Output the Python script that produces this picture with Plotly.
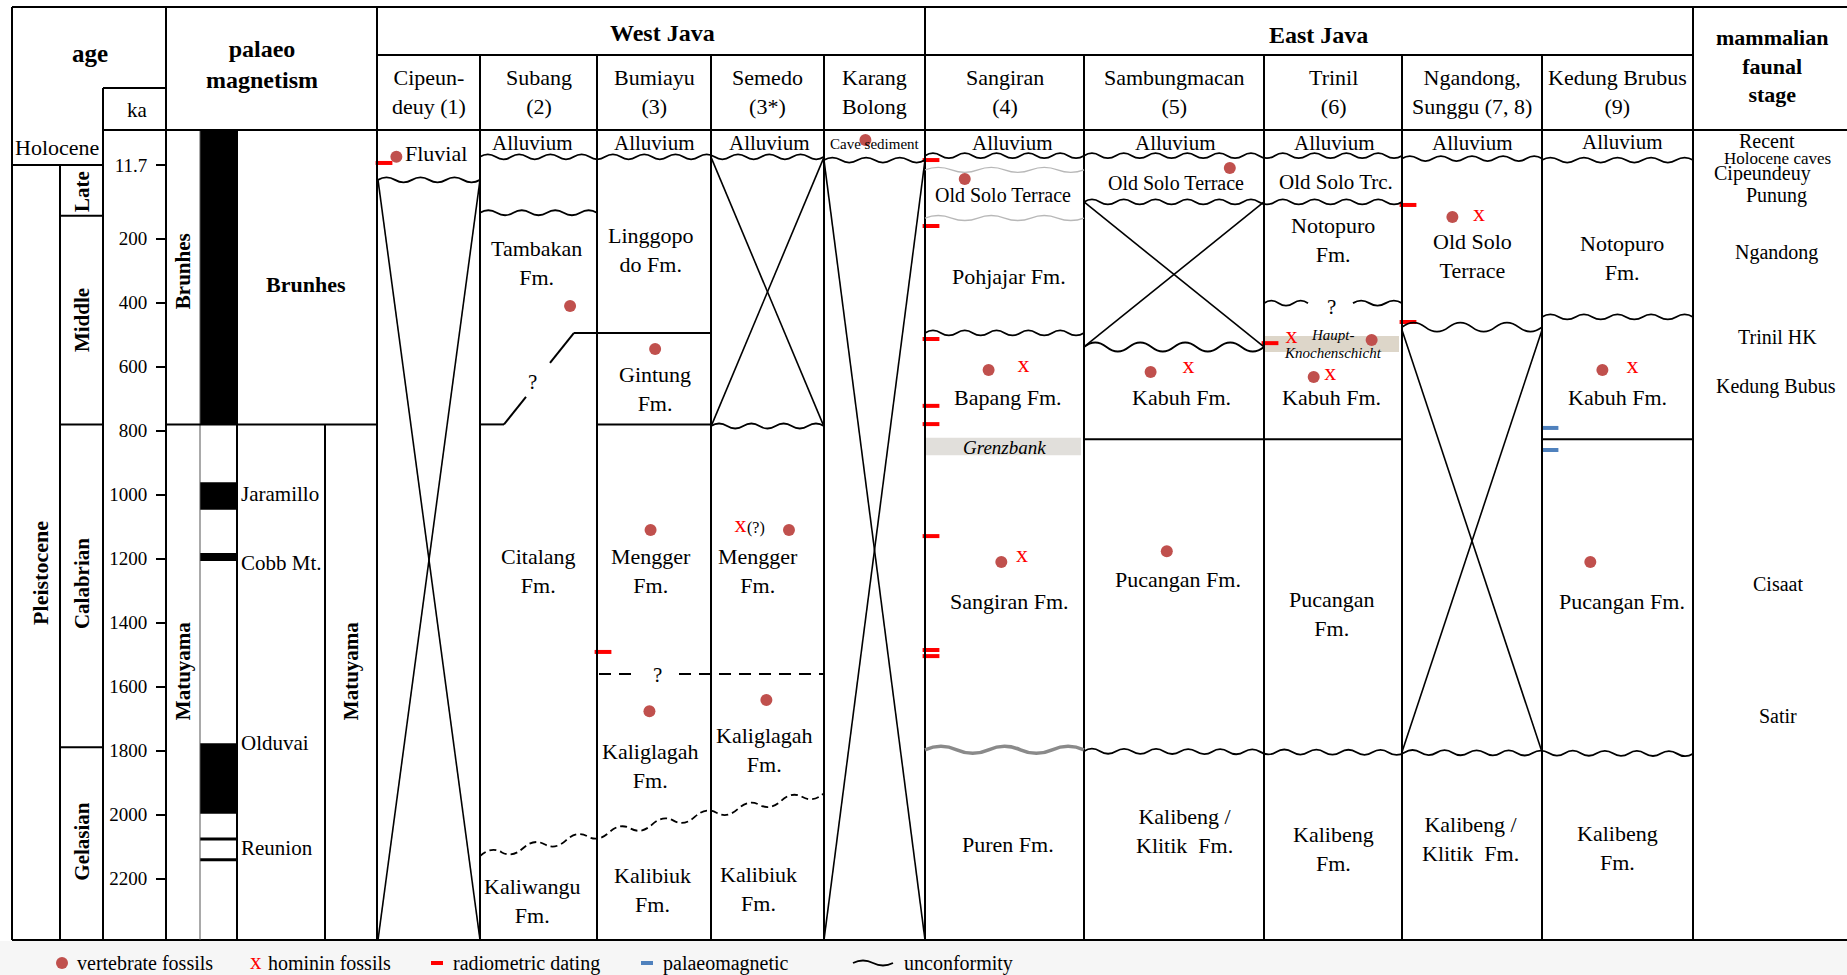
import plotly.graph_objects as go

# ---------------------------------------------------------------- age scale
AGE_TICKS = [11.7, 200, 400, 600, 800, 1000, 1200, 1400, 1600, 1800, 2000, 2200]
AGE_TICK_TEXT = ["11.7", "200", "400", "600", "800", "1000", "1200", "1400",
                 "1600", "1800", "2000", "2200"]
# the Holocene and Late Pleistocene are drawn stretched
SCALE_KNOTS_KA = [0.0, 11.7, 129.0]
SCALE_KNOTS_POS = [-136.0, -29.7, 129.0]
BASE_KA = 2392

EPOCHS = [("Holocene", 0, 11.7, 5.8), ("Pleistocene", 11.7, BASE_KA, 1245)]
STAGES = [("Late", 11.7, 129, 74), ("Middle", 129, 781, 455),
          ("Calabrian", 781, 1790, 1280), ("Gelasian", 1790, BASE_KA, 2085)]

# ---------------------------------------------------------- palaeomagnetism
CHRONS = [("Brunhes", 0, 781, 302), ("Matuyama", 781, BASE_KA, 1552)]
NORMAL_INTERVALS = [(0, 781), (962, 1048), (1183, 1208), (1777, 1998),
                    (2072, 2081), (2137, 2146)]
SUBCHRONS = [("Jaramillo", 998), ("Cobb Mt.", 1214), ("Olduvai", 1777), ("Reunion", 2105)]

# ----------------------------------------------------------------- sections
SECTIONS = ["cip", "sub", "bum", "sem", "kar", "san", "sam", "tri", "nga", "ked"]
SECTION_NAMES = ["Cipeun-<br>deuy (1)", "Subang<br>(2)", "Bumiayu<br>(3)", "Semedo<br>(3*)",
                 "Karang<br>Bolong", "Sangiran<br>(4)", "Sambungmacan<br>(5)", "Trinil<br>(6)",
                 "Ngandong,<br>Sunggu (7, 8)", "Kedung Brubus<br>(9)"]
REGIONS = ["West Java", "East Java"]

# formation labels: section, name, age at label (ka), place across column, size
FORMATIONS = [
    ("cip", "Fluvial", 7.9, 0.57, 22),
    ("sub", "Alluvium", 4.1, 0.45, 21),
    ("sub", "Tambakan<br>Fm.", 277, 0.48, 22),
    ("sub", "Citalang<br>Fm.", 1239, 0.50, 22),
    ("sub", "Kaliwangu<br>Fm.", 2270, 0.45, 22),
    ("bum", "Alluvium", 4.1, 0.50, 21),
    ("bum", "Linggopo<br>do Fm.", 236, 0.47, 22),
    ("bum", "Gintung<br>Fm.", 670, 0.51, 22),
    ("bum", "Mengger<br>Fm.", 1239, 0.47, 22),
    ("bum", "Kaliglagah<br>Fm.", 1848, 0.47, 22),
    ("bum", "Kalibiuk<br>Fm.", 2236, 0.49, 22),
    ("sem", "Alluvium", 4.1, 0.52, 21),
    ("sem", "Mengger<br>Fm.", 1239, 0.42, 22),
    ("sem", "Kaliglagah<br>Fm.", 1798, 0.47, 22),
    ("sem", "Kalibiuk<br>Fm.", 2233, 0.42, 22),
    ("kar", "Cave sediment", 4.5, 0.50, 15),
    ("san", "Alluvium", 4.1, 0.55, 21),
    ("san", "Old Solo Terrace", 81, 0.49, 20),
    ("san", "Pohjajar Fm.", 320, 0.53, 22),
    ("san", "Bapang Fm.", 698, 0.52, 22),
    ("san", "Sangiran Fm.", 1333, 0.53, 22),
    ("san", "Puren Fm.", 2095, 0.52, 22),
    ("sam", "Alluvium", 4.1, 0.51, 21),
    ("sam", "Old Solo Terrace", 53, 0.51, 20),
    ("sam", "Kabuh Fm.", 698, 0.54, 22),
    ("sam", "Pucangan Fm.", 1267, 0.52, 22),
    ("sam", "Kalibeng /<br>Klitik  Fm.", 2052, 0.56, 22),
    ("tri", "Alluvium", 4.1, 0.51, 21),
    ("tri", "Old Solo Trc.", 51, 0.52, 21),
    ("tri", "Notopuro<br>Fm.", 205, 0.50, 22),
    ("tri", "Kabuh Fm.", 698, 0.49, 22),
    ("tri", "Pucangan<br>Fm.", 1373, 0.49, 22),
    ("tri", "Kalibeng<br>Fm.", 2108, 0.50, 22),
    ("nga", "Alluvium", 4.1, 0.50, 21),
    ("nga", "Old Solo<br>Terrace", 255, 0.50, 22),
    ("nga", "Kalibeng /<br>Klitik  Fm.", 2077, 0.49, 22),
    ("ked", "Alluvium", 3.8, 0.53, 21),
    ("ked", "Notopuro<br>Fm.", 261, 0.53, 22),
    ("ked", "Kabuh Fm.", 698, 0.50, 22),
    ("ked", "Pucangan Fm.", 1333, 0.53, 22),
    ("ked", "Kalibeng<br>Fm.", 2105, 0.50, 22),
]
QUERIES = [("sub", 648, 0.45), ("bum", 1564, 0.53), ("tri", 414, 0.49)]

# marker beds: section, top, base (ka), label, label ages
MARKER_BEDS = [("san", 823, 877, ["Grenzbank"], [852], 19, "#e1dfdb"),
               ("tri", 505, 555, ["Haupt-", "Knochenschicht"], [500, 558], 15, "#ddd6c9")]

# fossil finds: section, age (ka), place across column
VERTEBRATE = [("cip", 8.9, 0.18), ("sub", 411, 0.77), ("bum", 545, 0.51), ("bum", 1111, 0.47),
              ("bum", 1677, 0.46), ("sem", 1111, 0.69), ("sem", 1642, 0.49), ("kar", 3.1, 0.41),
              ("san", 44, 0.25), ("san", 611, 0.40), ("san", 1211, 0.48),
              ("sam", 18.6, 0.81), ("sam", 617, 0.37), ("sam", 1177, 0.46),
              ("tri", 517, 0.78), ("tri", 633, 0.36), ("nga", 133, 0.36),
              ("ked", 611, 0.40), ("ked", 1211, 0.32)]
HOMININ = [("sem", 1105, 0.26), ("san", 605, 0.62), ("san", 1198, 0.61), ("sam", 608, 0.58),
           ("tri", 514, 0.20), ("tri", 630, 0.48), ("nga", 133, 0.55), ("ked", 608, 0.60)]
RADIOMETRIC = [("cip", 11.0), ("bum", 1492), ("san", 10), ("san", 161), ("san", 514),
               ("san", 723), ("san", 780), ("san", 1130), ("san", 1486), ("san", 1505),
               ("tri", 527), ("nga", 104), ("nga", 461)]
PALAEOMAGNETIC = [("ked", 792), ("ked", 861)]

# unconformities: first section, last section, age at left / right end, style
UNCONFORMITIES = [
    ("cip", "cip", 46, 46, "std"), ("sub", "sem", 8.9, 8.9, "std"), ("kar", "kar", 10, 10, "std"),
    ("sub", "sub", 122, 122, "std"), ("sem", "sem", 786, 786, "std"),
    ("sub", "sem", 2130, 1933, "dashed"),
    ("san", "tri", 8.5, 8.5, "std"), ("nga", "nga", 9.5, 9.5, "std"), ("ked", "ked", 10, 10, "std"),
    ("san", "san", 23, 23, "grey_thin"), ("san", "san", 136, 136, "grey_thin"),
    ("san", "san", 495, 495, "std"), ("sam", "tri", 97, 97, "std"),
    ("sam", "sam", 539, 539, "big"), ("nga", "nga", 477, 477, "big"),
    ("ked", "ked", 445, 445, "std"), ("san", "san", 1798, 1798, "grey_thick"),
    ("sam", "ked", 1802, 1810, "std"),
]
# sections with no record: section, top, base (ka)
HIATUSES = [("cip", 46, BASE_KA), ("sem", 9, 788), ("kar", 10, BASE_KA),
            ("sam", 97, 539), ("nga", 486, 1805)]

FAUNAL_STAGES = [("Recent", 3.4, 0.48, 20), ("Holocene caves", 9.4, 0.55, 17),
                 ("Cipeundeuy", 31, 0.45, 20), ("Punung", 81, 0.54, 20),
                 ("Ngandong", 245, 0.54, 20), ("Trinil HK", 508, 0.55, 20),
                 ("Kedung Bubus", 661, 0.54, 20), ("Cisaat", 1280, 0.55, 20),
                 ("Satir", 1692, 0.55, 20)]

LEGEND_ITEMS = ["vertebrate fossils", "hominin fossils", "radiometric dating",
                "palaeomagnetic", "unconformity"]

# ------------------------------------------------------------------ layout
W, H = 1847, 975
PX_PER_KA = 0.32
Y0_PX = 174.5
FONT = "Liberation Serif, Times New Roman, serif"
COL_EDGES = [378, 480, 597, 711, 824, 925, 1084, 1264, 1402, 1542, 1693]
COL = {s: (COL_EDGES[i], COL_EDGES[i + 1]) for i, s in enumerate(SECTIONS)}
FAUNA_COL = (1693, 1847)
TOP, HEAD1, HEAD_KA, HEAD2, BOTTOM = 7, 55, 88, 130, 940
RED, BLUE, DOT = "#FF0000", "#4F81BD", "#C0504D"

WAVE_STYLES = {
    "std": dict(amp=2.5, period=32, color="black", width=1.8, dash="solid"),
    "big": dict(amp=4.5, period=46, color="black", width=1.8, dash="solid"),
    "dashed": dict(amp=4.0, period=42, color="black", width=1.8, dash="7px,4px"),
    "grey_thin": dict(amp=2.5, period=52, color="#b8b8b8", width=1.3, dash="solid"),
    "grey_thick": dict(amp=3.5, period=60, color="#8a8a8a", width=3.5, dash="solid"),
}


def depth(ka):
    """Age (ka) -> position on the vertical axis."""
    if ka >= SCALE_KNOTS_KA[-1]:
        return ka
    for i in range(len(SCALE_KNOTS_KA) - 1):
        if ka <= SCALE_KNOTS_KA[i + 1]:
            t = (ka - SCALE_KNOTS_KA[i]) / (SCALE_KNOTS_KA[i + 1] - SCALE_KNOTS_KA[i])
            return SCALE_KNOTS_POS[i] + t * (SCALE_KNOTS_POS[i + 1] - SCALE_KNOTS_POS[i])
    return ka


def pap(py):
    return 1 - py / H


def across(sec, frac):
    x0, x1 = COL[sec]
    return x0 + frac * (x1 - x0)


shapes, annotations = [], []


def line(x0, y0, x1, y1, yref="y", color="black", width=2, dash="solid"):
    shapes.append(dict(type="line", xref="x", yref=yref, x0=x0, x1=x1, y0=y0, y1=y1,
                       line=dict(color=color, width=width, dash=dash), layer="above"))


def rect(x0, y0, x1, y1, fill, yref="y", layer="below"):
    shapes.append(dict(type="rect", xref="x", yref=yref, x0=x0, x1=x1, y0=y0, y1=y1,
                       fillcolor=fill, line=dict(width=0), layer=layer))


def text(x, y, s, size=22, yref="y", xanchor="center", color="black", angle=0, bold=False):
    if bold:
        s = "<b>" + s + "</b>"
    annotations.append(dict(x=x, y=y, xref="x", yref=yref, text=s, showarrow=False,
                            font=dict(family=FONT, size=size, color=color),
                            xanchor=xanchor, yanchor="middle", textangle=angle,
                            align="center", borderpad=0))


def wave_path(x0, x1, y0, y1, amp, period, unit):
    n = max(2, int(round((x1 - x0) / (period / 2))))
    step = (x1 - x0) / n
    a = 2 * amp * unit
    d = [f"M{x0:.1f},{y0:.4f}"]
    for i in range(n):
        xs, xe = x0 + i * step, x0 + (i + 1) * step
        ys = y0 + (y1 - y0) * i / n
        ye = y0 + (y1 - y0) * (i + 1) / n
        sgn = -1 if i % 2 == 0 else 1
        d.append(f"Q{(xs + xe) / 2:.1f},{(ys + ye) / 2 + sgn * a:.4f} {xe:.1f},{ye:.4f}")
    return " ".join(d)


def wave(x0, x1, y0, y1, style, yref="y"):
    st = WAVE_STYLES[style]
    unit = 1 / PX_PER_KA if yref == "y" else -1 / H
    shapes.append(dict(type="path", xref="x", yref=yref,
                       path=wave_path(x0, x1, y0, y1, st["amp"], st["period"], unit),
                       line=dict(color=st["color"], width=st["width"], dash=st["dash"]),
                       layer="above"))


# ---------------------------------------------------------- table framework
rect(0, pap(BOTTOM + 1), W, 0, "#f6f6f6", yref="paper")
line(12, pap(TOP), W, pap(TOP), yref="paper")
line(377, pap(HEAD1), 1693, pap(HEAD1), yref="paper")
line(103, pap(HEAD_KA), 166, pap(HEAD_KA), yref="paper")
line(103, pap(HEAD2), W, pap(HEAD2), yref="paper")
line(12, pap(BOTTOM), W, pap(BOTTOM), yref="paper")
for x in (12, 166, 377, 925, 1693):
    line(x, pap(TOP), x, pap(BOTTOM), yref="paper")
line(103, pap(HEAD_KA), 103, pap(BOTTOM), yref="paper")
for x in COL_EDGES[1:-1]:
    if x != 925:
        line(x, pap(HEAD1), x, pap(BOTTOM), yref="paper")

# age columns
line(12, depth(11.7), 103, depth(11.7))
line(60, depth(11.7), 60, depth(BASE_KA))
for name, top, base, lab in STAGES[1:]:
    line(60, depth(top), 103, depth(top))
text(57, depth(EPOCHS[0][3]), EPOCHS[0][0], size=22)
text(41, depth(EPOCHS[1][3]), EPOCHS[1][0], size=22, angle=-90, bold=True)
for name, top, base, lab in STAGES:
    text(82, depth(lab), name, size=21, angle=-90, bold=True)

# palaeomagnetic column
for a, b in NORMAL_INTERVALS:
    rect(200, depth(a), 237, depth(b), "black", layer="above")
line(200, depth(0), 200, depth(BASE_KA), color="#555555", width=1)
line(237, depth(0), 237, depth(BASE_KA), width=2)
line(166, depth(CHRONS[1][1]), 377, depth(CHRONS[1][1]))
line(325, depth(CHRONS[1][1]), 325, depth(BASE_KA))
text(183, depth(CHRONS[0][3]), CHRONS[0][0], size=21, angle=-90, bold=True)
text(306, depth(345), CHRONS[0][0], size=22, bold=True)
text(183, depth(CHRONS[1][3]), CHRONS[1][0], size=21, angle=-90, bold=True)
text(351, depth(CHRONS[1][3]), CHRONS[1][0], size=21, angle=-90, bold=True)
for name, age in SUBCHRONS:
    text(240, depth(age), name, size=21, xanchor="left")

# header text
text(90, pap(53), "age", size=25, yref="paper", bold=True)
text(137, pap(110), "ka", size=21, yref="paper")
text(262, pap(65), "palaeo<br>magnetism", size=24, yref="paper", bold=True)
text(662, pap(33), REGIONS[0], size=24, yref="paper", bold=True)
text(1318, pap(35), REGIONS[1], size=24, yref="paper", bold=True)
text(1772, pap(66), "mammalian<br>faunal<br>stage", size=22, yref="paper", bold=True)
for sec, name in zip(SECTIONS, SECTION_NAMES):
    text(across(sec, 0.5), pap(92), name, size=22, yref="paper")

# ---------------------------------------------------------- section content
for sec, top, base, labels, ages, size, fill in MARKER_BEDS:
    x0, x1 = COL[sec]
    rect(x0 + 1, depth(top), x1 - 3, depth(base), fill)
    for lab, age in zip(labels, ages):
        text((x0 + x1) / 2, depth(age), "<i>" + lab + "</i>", size=size)

for s0, s1, a0, a1, style in UNCONFORMITIES:
    wave(COL[s0][0], COL[s1][1], depth(a0), depth(a1), style)

# Trinil: uncertain Notopuro / Kabuh contact
x0, x1 = COL["tri"]
wave(x0, x0 + 44, depth(402), depth(402), "std")
wave(x1 - 49, x1, depth(402), depth(402), "std")

for sec, top, base in HIATUSES:
    x0, x1 = COL[sec]
    line(x0, depth(top), x1, depth(base), width=1.6)
    line(x1, depth(top), x0, depth(base), width=1.6)

# Subang / Bumiayu contacts
sx0, sx1 = COL["sub"]
bx0, bx1 = COL["bum"]
line(sx0, depth(781), sx0 + 24, depth(781))
line(sx0 + 24, depth(781), sx0 + 46, depth(695))
line(sx0 + 70, depth(589), sx0 + 94, depth(495))
line(sx0 + 94, depth(495), bx1, depth(495))
line(bx0, depth(781), bx1, depth(781))
line(bx0 + 2, depth(1561), bx0 + 35, depth(1561), width=1.8, dash="12px,8px")
line(bx0 + 82, depth(1561), COL["sem"][1], depth(1561), width=1.8, dash="12px,8px")

# Kabuh / Pucangan contact
line(COL["sam"][0], depth(827), COL["tri"][1], depth(827))
line(COL["ked"][0], depth(827), COL["ked"][1], depth(827))

for sec, lab, age, frac, size in FORMATIONS:
    text(across(sec, frac), depth(age), lab, size=size)
for sec, age, frac in QUERIES:
    text(across(sec, frac), depth(age), "?", size=21)
text(across("sem", 0.40), depth(1105), "(?)", size=16)

for lab, age, frac, size in FAUNAL_STAGES:
    text(FAUNA_COL[0] + frac * (FAUNA_COL[1] - FAUNA_COL[0]), depth(age), lab, size=size)

# ------------------------------------------------------------------- legend
LY = 963
LF = 20
shapes.append(dict(type="circle", xref="x", yref="paper", x0=56, x1=68,
                   y0=pap(LY + 6), y1=pap(LY - 6), fillcolor=DOT, line=dict(width=0)))
text(76, pap(LY), LEGEND_ITEMS[0], size=LF, yref="paper", xanchor="left")
text(256, pap(LY - 2), "x", size=23, yref="paper", color=RED)
text(267, pap(LY), LEGEND_ITEMS[1], size=LF, yref="paper", xanchor="left")
line(431, pap(LY), 443, pap(LY), yref="paper", color=RED, width=4)
text(452, pap(LY), LEGEND_ITEMS[2], size=LF, yref="paper", xanchor="left")
line(641, pap(LY), 653, pap(LY), yref="paper", color=BLUE, width=4)
text(662, pap(LY), LEGEND_ITEMS[3], size=LF, yref="paper", xanchor="left")
wave(853, 893, pap(LY), pap(LY), "std", yref="paper")
text(903, pap(LY), LEGEND_ITEMS[4], size=LF, yref="paper", xanchor="left")

# ------------------------------------------------------------------- traces
fig = go.Figure()
fig.add_trace(go.Scatter(
    x=[across(s, f) for s, a, f in VERTEBRATE], y=[depth(a) for s, a, f in VERTEBRATE],
    mode="markers", marker=dict(color=DOT, size=12), cliponaxis=False, hoverinfo="skip"))
fig.add_trace(go.Scatter(
    x=[across(s, f) for s, a, f in HOMININ], y=[depth(a) - 6 for s, a, f in HOMININ],
    mode="text", text=["x"] * len(HOMININ),
    textfont=dict(family=FONT, size=24, color=RED), hoverinfo="skip"))
fig.add_trace(go.Scatter(
    x=[COL[s][0] + 6 for s, a in RADIOMETRIC], y=[depth(a) for s, a in RADIOMETRIC],
    mode="markers", marker=dict(symbol="line-ew", size=12, line=dict(color=RED, width=4)),
    hoverinfo="skip"))
fig.add_trace(go.Scatter(
    x=[COL[s][0] + 8 for s, a in PALAEOMAGNETIC], y=[depth(a) for s, a in PALAEOMAGNETIC],
    mode="markers", marker=dict(symbol="line-ew", size=12, line=dict(color=BLUE, width=4)),
    hoverinfo="skip"))

fig.update_layout(
    template="none", width=W, height=H, autosize=False,
    margin=dict(l=0, r=0, t=0, b=0, pad=0),
    paper_bgcolor="white", plot_bgcolor="white", showlegend=False,
    xaxis=dict(range=[0, W], visible=False, fixedrange=True),
    yaxis=dict(range=[(H - Y0_PX) / PX_PER_KA, -Y0_PX / PX_PER_KA], autorange=False,
               anchor="free", position=166 / W, side="left",
               tickvals=[depth(t) for t in AGE_TICKS], ticktext=AGE_TICK_TEXT,
               ticks="outside", ticklen=10, tickwidth=1.5, tickcolor="black",
               tickfont=dict(family=FONT, size=19, color="black"), ticklabelstandoff=5,
               showgrid=False, zeroline=False, showline=False, fixedrange=True,
               automargin=False),
    shapes=shapes, annotations=annotations,
)

fig.write_html("out.html")
